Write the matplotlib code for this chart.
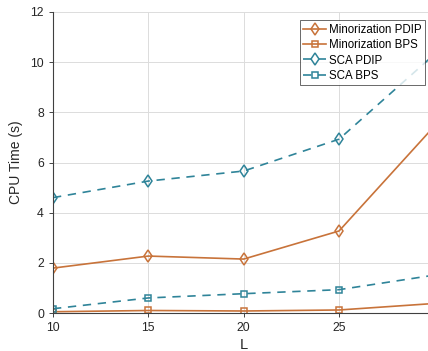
import matplotlib
matplotlib.use("Agg")
import matplotlib.pyplot as plt

L = [10, 15, 20, 25, 30]
min_pdip = [1.79, 2.27, 2.15, 3.27, 7.45]
min_bps = [0.05, 0.10, 0.08, 0.12, 0.38]
sca_pdip = [4.60, 5.26, 5.66, 6.93, 10.31]
sca_bps = [0.17, 0.60, 0.77, 0.93, 1.51]
xticks = [10, 15, 20, 25]
yticks = [0, 2, 4, 6, 8, 10, 12]

orange = "#C8733A"
teal = "#2F8499"

plt.rcParams['font.family'] = ['Liberation Sans', 'DejaVu Sans']
fig = plt.figure(figsize=(4.28, 3.51), dpi=100)
ax = fig.add_axes([53/428, 38/351, 381.4/428, 301/351])

ax.plot(L, min_pdip, '-', color=orange, lw=1.2, marker='d', ms=6.5, mfc='none', mew=1.1, label='Minorization PDIP')
ax.plot(L, min_bps, '-', color=orange, lw=1.2, marker='s', ms=5, mfc='none', mew=1.1, label='Minorization BPS')
ax.plot(L, sca_pdip, '--', color=teal, lw=1.2, marker='d', ms=6.5, mfc='none', mew=1.1, label='SCA PDIP', dashes=(5, 4))
ax.plot(L, sca_bps, '--', color=teal, lw=1.2, marker='s', ms=5, mfc='none', mew=1.1, label='SCA BPS', dashes=(5, 4))

ax.set_xlim(10, 30)
ax.set_ylim(0, 12)
ax.set_xticks(xticks)
ax.set_yticks(yticks)
ax.tick_params(labelsize=8.8, colors='#262626', length=3, width=0.6, direction='out')
ax.grid(True, color='#dcdcdc', lw=0.7)
ax.set_axisbelow(True)
for s in ['top', 'right']:
    ax.spines[s].set_visible(False)
for s in ['left', 'bottom']:
    ax.spines[s].set_color('#404040')
    ax.spines[s].set_linewidth(0.8)
ax.set_xlabel('L', fontsize=10.5, color='#262626', labelpad=3)
ax.set_ylabel('CPU Time (s)', fontsize=10, color='#262626', labelpad=5)

leg = ax.legend(loc='upper right', bbox_to_anchor=(0.975, 0.973), borderaxespad=0,
                fontsize=8.3, frameon=True, fancybox=False, edgecolor='#262626',
                handlelength=2.0, handletextpad=0.2, labelspacing=0.3, borderpad=0.3)
leg.get_frame().set_linewidth(0.6)

fig.savefig('out.png', dpi=100)
